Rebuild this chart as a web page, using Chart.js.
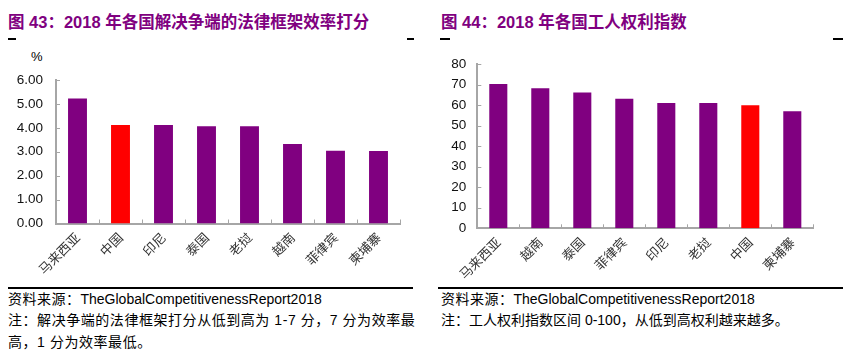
<!DOCTYPE html>
<html>
<head>
<meta charset="utf-8">
<script src="https://cdn.jsdelivr.net/npm/chart.js@4.4.0/dist/chart.umd.min.js"></script>
<style>
  html, body { margin:0; padding:0; background:#fff; }
  body { width:851px; height:354px; position:relative; overflow:hidden;
         font-family:"Liberation Sans","Noto Sans CJK SC",sans-serif; }
  .title { position:absolute; top:10px; font-size:16.5px; font-weight:bold; color:#800080; white-space:nowrap; line-height:24px; }
  .mark { position:absolute; top:38px; height:1.5px; background:#000; }
  .rule { position:absolute; top:287px; height:1.5px; background:#000; }
  .note { position:absolute; font-size:14px; color:#000; white-space:nowrap; line-height:22px; }
  .cjk { letter-spacing:0.5px; }
  .wide { letter-spacing:0.55px; }
  .unit { position:absolute; left:31px; top:49px; font-size:13px; color:#000; }
  canvas { position:absolute; }
</style>
</head>
<body>
<div class="title" style="left:8px;">图 43：2018 年各国解决争端的法律框架效率打分</div>
<div class="title" style="left:441px;">图 44：2018 年各国工人权利指数</div>
<div class="mark" style="left:8px;width:8px;"></div>
<div class="mark" style="left:407px;width:7px;"></div>
<div class="mark" style="left:440px;width:10px;"></div>
<div class="mark" style="left:833px;width:10px;"></div>
<div class="unit">%</div>

<div style="position:absolute;left:0;top:45px;width:425px;height:235px;"><canvas id="c1"></canvas></div>
<div style="position:absolute;left:425px;top:45px;width:426px;height:235px;"><canvas id="c2"></canvas></div>

<div class="rule" style="left:8px;width:405px;"></div>
<div class="rule" style="left:438px;width:405px;"></div>

<div class="note" style="left:8px;top:288px;"><span class="cjk">资料来源：</span>TheGlobalCompetitivenessReport2018</div>
<div class="note wide" style="left:8px;top:309px;">注：解决争端的法律框架打分从低到高为 1-7 分，7 分为效率最</div>
<div class="note wide" style="left:8px;top:331px;">高，1 分为效率最低。</div>

<div class="note" style="left:441px;top:288px;"><span class="cjk">资料来源：</span>TheGlobalCompetitivenessReport2018</div>
<div class="note" style="left:441px;top:309px;">注：工人权利指数区间 0-100，从低到高权利越来越多。</div>

<script>
// ---- Data ----
const categories1 = ["马来西亚","中国","印尼","泰国","老挝","越南","菲律宾","柬埔寨"];
const values1 = [5.23, 4.12, 4.12, 4.07, 4.07, 3.32, 3.04, 3.03];
const yTicks1 = [0, 1, 2, 3, 4, 5, 6];

const categories2 = ["马来西亚","越南","泰国","菲律宾","印尼","老挝","中国","柬埔寨"];
const values2 = [70.3, 68.2, 66.2, 63.1, 61.0, 61.0, 60.0, 57.0];
const yTicks2 = [0, 10, 20, 30, 40, 50, 60, 70, 80];

const highlight = "中国";
const PURPLE = "#800080", RED = "#FF0000", AXIS = "#a6a6a6";

const innerTicks = {
  id: 'innerTicks',
  afterDatasetsDraw(chart) {
    const { ctx, scales: { x, y } } = chart;
    ctx.save();
    ctx.strokeStyle = AXIS;
    ctx.lineWidth = 1;
    ctx.beginPath();
    y.ticks.forEach((t, i) => {
      const py = Math.round(y.getPixelForTick(i)) + 0.5;
      ctx.moveTo(x.left, py); ctx.lineTo(x.left + 4, py);
    });
    for (let i = 1; i <= x.ticks.length; i++) {
      const px = Math.round(x.getPixelForValue(i - 0.5)) + 0.5;
      ctx.moveTo(px, y.bottom); ctx.lineTo(px, y.bottom - 4);
    }
    ctx.stroke();
    ctx.restore();
  }
};

function makeChart(id, cats, vals, ticks, cfg) {
  return new Chart(document.getElementById(id), {
    type: 'bar',
    data: {
      labels: cats,
      datasets: [{
        data: vals,
        backgroundColor: cats.map(c => c === highlight ? RED : PURPLE),
        borderWidth: 0,
        barPercentage: cfg.barPct,
        categoryPercentage: 1.0
      }]
    },
    options: {
      responsive: true,
      maintainAspectRatio: false,
      animation: false,
      layout: { padding: { top: cfg.top, right: cfg.right, left: 0, bottom: 0 }, autoPadding: false },
      plugins: { legend: { display: false }, tooltip: { enabled: false } },
      scales: {
        x: {
          grid: { display: false, drawTicks: false },
          border: { display: true, color: AXIS, width: 2 },
          ticks: {
            color: '#333',
            font: { family: '"Noto Sans CJK SC", sans-serif', size: 13 },
            maxRotation: 45, minRotation: 45, padding: 6, autoSkip: false
          },
          afterFit(s) { s.height = cfg.xh; }
        },
        y: {
          min: ticks[0], max: ticks[ticks.length - 1],
          afterBuildTicks(s) { s.ticks = ticks.map(v => ({ value: v })); },
          grid: { display: false, drawTicks: false },
          border: { display: true, color: AXIS, width: 2 },
          ticks: {
            color: '#111',
            font: { family: '"Liberation Sans", Arial, sans-serif', size: 13.5 },
            padding: cfg.ypad,
            callback: v => cfg.fmt(v)
          },
          afterFit(s) { s.width = cfg.yw; }
        }
      }
    },
    plugins: [innerTicks]
  });
}

makeChart('c1', categories1, values1, yTicks1,
  { barPct: 0.44, top: 35, right: 25, xh: 56.5, yw: 56, ypad: 13, fmt: v => Number(v).toFixed(2) });
makeChart('c2', categories2, values2, yTicks2,
  { barPct: 0.43, top: 17.7, right: 37.7, xh: 51.7, yw: 52.3, ypad: 11, fmt: v => String(v) });
</script>
</body>
</html>
